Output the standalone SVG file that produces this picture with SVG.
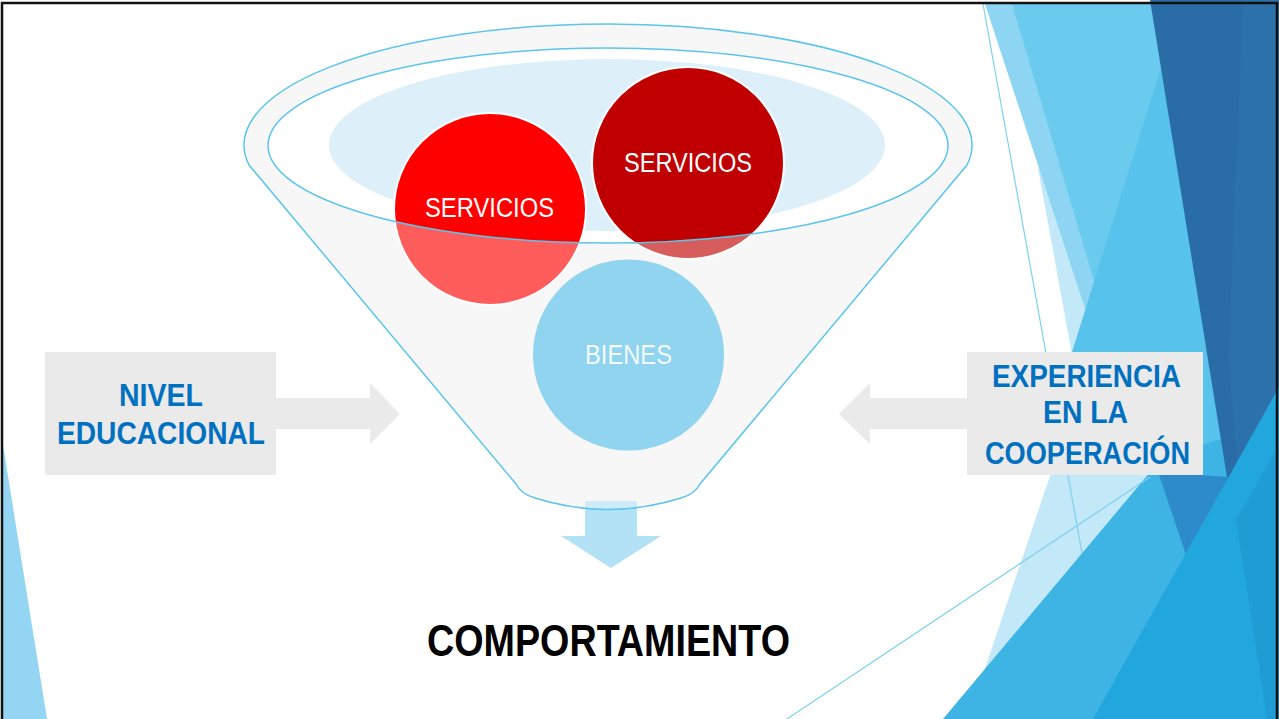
<svg xmlns="http://www.w3.org/2000/svg" width="1279" height="719" viewBox="0 0 1279 719">
  <style>
    .lbl { font-family: "Liberation Sans", Arial, sans-serif; font-weight: bold; fill: #0070C0; font-size: 31px; text-anchor: middle; }
    .ctext { font-family: "Liberation Sans", Arial, sans-serif; fill: #FFFFFF; font-size: 27px; text-anchor: middle; }
    .box { fill: #EAEAEA; }
    .outline { fill: none; stroke: #5BC5EC; stroke-width: 1.5; }
    .deco-line { fill: none; stroke: #7CD2F2; stroke-width: 1.2; }
  </style>
  <rect x="0" y="0" width="1279" height="719" fill="#FFFFFF"/>

  <!-- background decorations -->
  <g id="decor">
    <polygon points="3,445 47,719 3,719" fill="#93D5F2"/>
    <polygon points="1038,168 1082,410 1050,476 968,719 1279,719 1279,300 1200,300" fill="#C3E8F8"/>
    <polygon points="985,4 1150,4 1125,430" fill="#8DD5F2"/>
    <polygon points="1012,4 1170,4 1245,480 1150,470" fill="#6BCBEF"/>
    <polygon points="1165,55 1245,480 1150,478 1057,400" fill="#57C2EB"/>
    <polygon points="943,719 1162,458 1279,420 1279,719" fill="#3DB4E4"/>
    <polygon points="1150,0 1279,0 1279,719 1266,719" fill="#2A6CA5"/>
    <polygon points="1243,0 1279,0 1279,719 1262,719 1228,360" fill="#2F76AF" opacity="0.5"/>
    <polygon points="1158,472 1229,477 1186,555" fill="#2E8BCB"/>
    <polygon points="1093,719 1279,387 1279,719" fill="#22A6DE"/>
    <polygon points="1236,520 1279,445 1279,719 1267,719" fill="#1B8FC6" opacity="0.4"/>
    <line class="deco-line" x1="983" y1="4" x2="1082" y2="553"/>
    <line class="deco-line" x1="787" y1="719" x2="1150" y2="477"/>
  </g>

  <!-- funnel back -->
  <g id="funnel">
    <path d="M 249 165 A 364 121 0 1 1 967 165 L 700 484 Q 695 494 681 498 Q 608 521 535 498 Q 521 494 516 484 Z" fill="#F2F2F2"/>
    <ellipse cx="608" cy="145.5" rx="340" ry="97.5" fill="#FFFFFF"/>
    <ellipse cx="607" cy="145" rx="278" ry="86" fill="#DDF0FA"/>
  </g>

  <g id="connectors">
    <polygon id="arrow-down" points="585,501 637,501 637,536 661,536 611,568 561,536 585,536" fill="#B3E1F5"/>
    <polygon id="arrow-left-in" points="276,398 370,398 370,383 400,414 370,444 370,429 276,429" fill="#EAEAEA"/>
    <polygon id="arrow-right-in" points="967,398 870,398 870,383 839,414 870,444 870,429 967,429" fill="#EAEAEA"/>
  </g>

  <g id="node-servicios-1">
    <circle cx="490" cy="209" r="96" fill="#FF0000" stroke="#FFFFFF" stroke-width="2"/>
  </g>
  <g id="node-servicios-2">
    <circle cx="688" cy="163" r="96" fill="#C00000" stroke="#FFFFFF" stroke-width="2"/>
  </g>
  <g id="node-bienes">
    <circle cx="628.5" cy="355" r="95.5" fill="#52BCE8"/>
  </g>

  <!-- funnel front translucent surface -->
  <g id="funnel-front">
    <path d="M 249 165 A 364 121 0 1 1 967 165 L 700 484 Q 695 494 681 498 Q 608 521 535 498 Q 521 494 516 484 Z M 268 145.5 A 340 97.5 0 1 0 948 145.5 A 340 97.5 0 1 0 268 145.5 Z" fill="#FFFFFF" fill-opacity="0.36" fill-rule="evenodd"/>
    <path class="outline" d="M 249 165 A 364 121 0 1 1 967 165 L 700 484 Q 695 494 681 498 Q 608 521 535 498 Q 521 494 516 484 Z"/>
    <ellipse class="outline" cx="608" cy="145.5" rx="340" ry="97.5"/>
  </g>

  <g id="labels-circles">
    <text class="ctext" x="489.5" y="217" textLength="129" lengthAdjust="spacingAndGlyphs">SERVICIOS</text>
    <text class="ctext" x="688" y="172" textLength="128" lengthAdjust="spacingAndGlyphs">SERVICIOS</text>
    <text class="ctext" x="628.5" y="364" textLength="87" lengthAdjust="spacingAndGlyphs" fill-opacity="0.92">BIENES</text>
  </g>

  <g id="node-nivel">
    <rect class="box" x="45" y="352" width="231" height="123"/>
    <text class="lbl" x="161" y="406" textLength="84" lengthAdjust="spacingAndGlyphs">NIVEL</text>
    <text class="lbl" x="161" y="444" textLength="208" lengthAdjust="spacingAndGlyphs">EDUCACIONAL</text>
  </g>

  <g id="node-experiencia">
    <rect class="box" x="967" y="352" width="236" height="123"/>
    <text class="lbl" x="1086.5" y="387" textLength="189" lengthAdjust="spacingAndGlyphs">EXPERIENCIA</text>
    <text class="lbl" x="1085.5" y="423" textLength="85" lengthAdjust="spacingAndGlyphs">EN LA</text>
    <text class="lbl" x="1087.5" y="464" textLength="205" lengthAdjust="spacingAndGlyphs">COOPERACIÓN</text>
  </g>

  <g id="node-comportamiento">
    <text x="608.5" y="656" font-family="Liberation Sans, Arial, sans-serif" font-weight="bold" font-size="44" fill="#000000" text-anchor="middle" textLength="363" lengthAdjust="spacingAndGlyphs">COMPORTAMIENTO</text>
  </g>

  <rect x="2" y="3" width="1275" height="720" fill="none" stroke="#111111" stroke-width="2.5"/>
</svg>
